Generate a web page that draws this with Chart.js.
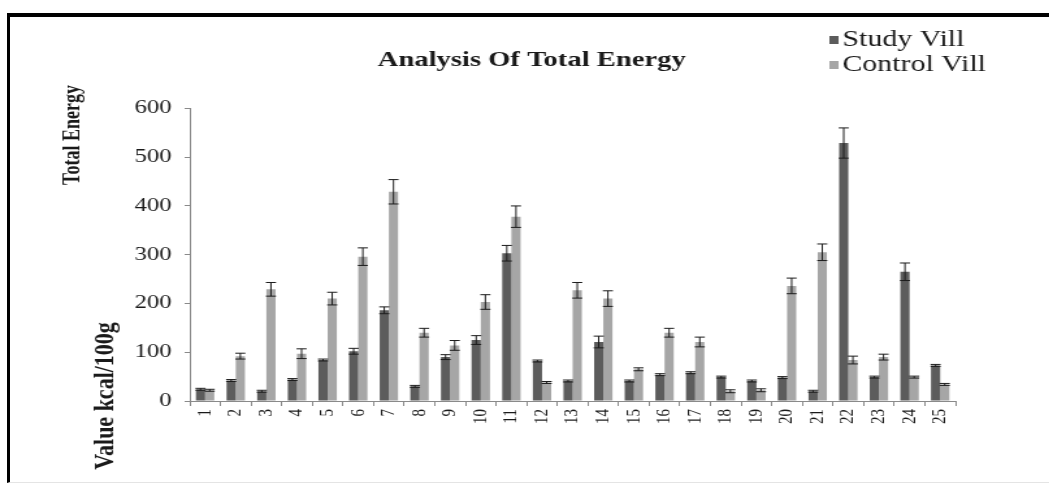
<!DOCTYPE html>
<html>
<head>
<meta charset="utf-8">
<script src="https://cdn.jsdelivr.net/npm/chart.js@4.4.1/dist/chart.umd.min.js"></script>
<style>
  html, body { margin: 0; padding: 0; background: #fff; overflow: hidden; }
  #wrap { position: absolute; left: 0; top: 0; width: 807px; height: 490px; transform: scaleX(1.3); transform-origin: 0 0; }
  #frame { position: absolute; left: 7px; top: 13px; width: 1100px; height: 465px;
           border-top: 4px solid #000; border-left: 3px solid #000; border-bottom: 1px solid #e4e4e4;
           pointer-events: none; }
</style>
</head>
<body>
<div id="wrap"><canvas id="energy_chart" width="807" height="490"></canvas></div>
<div id="frame"></div>
<script>
// villages 1..25
var villages = ['1','2','3','4','5','6','7','8','9','10','11','12','13','14','15','16','17','18','19','20','21','22','23','24','25'];

// total energy, kcal/100g
var studyVill   = [24, 42, 20, 44, 84, 102, 186, 30, 90, 125, 303, 82, 41, 121, 41, 54, 58, 49, 41, 48, 20, 529, 49, 265, 73];
var controlVill = [22, 92, 229, 97, 210, 296, 429, 140, 114, 203, 378, 38, 227, 210, 65, 140, 121, 20, 22, 236, 305, 84, 90, 49, 34];

// error bar half-lengths
var studyErr   = [2, 2, 2, 2, 2, 6, 7, 2, 5, 9, 16, 2, 2, 12, 2, 2, 2, 2, 2, 2, 2, 31, 2, 18, 2];
var controlErr = [2, 6, 14, 10, 13, 18, 25, 9, 10, 15, 22, 2, 16, 16, 3, 9, 10, 3, 3, 16, 17, 8, 6, 2, 2];

var yMax = 600;
var yStep = 100;

var serif = "'Liberation Serif', 'Times New Roman', serif";

// +/- error bars on top of every bar
var errorBars = {
  id: 'errorBars',
  afterDatasetsDraw: function(chart) {
    var ctx = chart.ctx;
    var y = chart.scales.y;
    chart.data.datasets.forEach(function(ds, di) {
      var meta = chart.getDatasetMeta(di);
      meta.data.forEach(function(bar, i) {
        var v = ds.data[i], e = ds.errors[i];
        var top = y.getPixelForValue(v + e);
        var bot = y.getPixelForValue(v - e);
        var half = bar.width * 0.55;
        ctx.save();
        ctx.strokeStyle = '#1c1c1c';
        ctx.lineWidth = 1;
        ctx.beginPath();
        ctx.moveTo(bar.x, top); ctx.lineTo(bar.x, bot);
        ctx.moveTo(bar.x - half, top); ctx.lineTo(bar.x + half, top);
        ctx.moveTo(bar.x - half, bot); ctx.lineTo(bar.x + half, bot);
        ctx.stroke();
        ctx.restore();
      });
    });
  }
};

// title centred over the whole page, not only over the plot
var titleSpan = {
  id: 'titleSpan',
  afterLayout: function(chart) {
    chart.titleBlock.left = 0;
    chart.titleBlock.right = 818;
  }
};

// legend box in the top right corner
var cornerLegend = {
  id: 'cornerLegend',
  afterDraw: function(chart) {
    var ctx = chart.ctx;
    ctx.save();
    ctx.font = '23px ' + serif;
    ctx.textBaseline = 'middle';
    chart.data.datasets.forEach(function(ds, i) {
      var cy = 40 + i * 25;
      ctx.fillStyle = ds.backgroundColor;
      ctx.fillRect(638, cy - 4, 7, 8);
      ctx.fillStyle = '#1a1a1a';
      ctx.fillText(ds.label, 648, cy);
    });
    ctx.restore();
  }
};

// the two pieces of the y axis title
var yTitles = {
  id: 'yTitles',
  afterDraw: function(chart) {
    var ctx = chart.ctx;
    function vtext(txt, x, y, size) {
      ctx.save();
      ctx.translate(x, y);
      ctx.rotate(-Math.PI / 2);
      ctx.font = 'bold ' + size + 'px ' + serif;
      ctx.fillStyle = '#1a1a1a';
      ctx.textAlign = 'center';
      ctx.textBaseline = 'middle';
      ctx.fillText(txt, 0, 0);
      ctx.restore();
    }
    vtext('Total Energy', 56, 135, 18);
    vtext('Value kcal/100g', 81, 396, 22);
  }
};

var ctx = document.getElementById('energy_chart').getContext('2d');
var chart = new Chart(ctx, {
  type: 'bar',
  data: {
    labels: villages,
    datasets: [{
      label: 'Study Vill',
      data: studyVill,
      errors: studyErr,
      backgroundColor: '#5c5c5c'
    }, {
      label: 'Control Vill',
      data: controlVill,
      errors: controlErr,
      backgroundColor: '#a6a6a6'
    }]
  },
  options: {
    responsive: false,
    animation: false,
    layout: { padding: { left: 0, right: 72, top: 0, bottom: 49 } },
    datasets: { bar: { categoryPercentage: 0.6, barPercentage: 1.0 } },
    plugins: {
      legend: { display: false },
      tooltip: { enabled: false },
      title: {
        display: true,
        text: 'Analysis Of Total Energy',
        color: '#1a1a1a',
        font: { family: serif, size: 22, weight: 'bold' },
        padding: { top: 47, bottom: 35 }
      }
    },
    scales: {
      x: {
        grid: { display: true, offset: true, drawOnChartArea: false, tickLength: 5, color: '#8a8a8a' },
        border: { color: '#8a8a8a' },
        ticks: { color: '#1a1a1a', font: { family: serif, size: 15 }, minRotation: 90, maxRotation: 90, padding: 3 },
        afterFit: function(scale) { scale.height = 40; }
      },
      y: {
        min: 0,
        max: yMax,
        grid: { display: true, drawOnChartArea: false, tickLength: 4, color: '#8a8a8a' },
        border: { color: '#8a8a8a' },
        ticks: { stepSize: yStep, color: '#1a1a1a', font: { family: serif, size: 19 }, padding: 10 },
        afterFit: function(scale) { scale.width = 146; }
      }
    }
  },
  plugins: [errorBars, titleSpan, cornerLegend, yTitles]
});
</script>
</body>
</html>
